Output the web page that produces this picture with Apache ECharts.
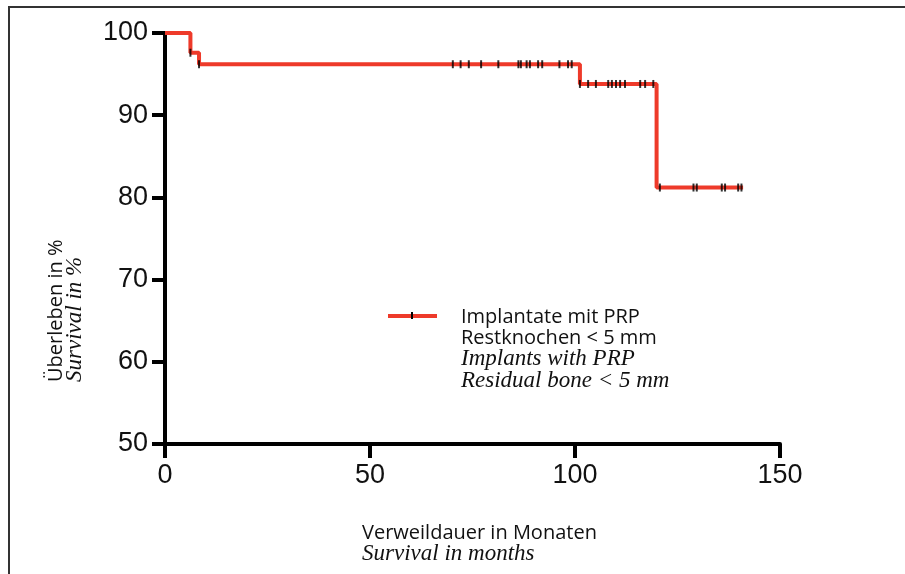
<!DOCTYPE html>
<html>
<head>
<meta charset="utf-8">
<script src="https://cdn.jsdelivr.net/npm/echarts@6/dist/echarts.min.js"></script>
<style>
  html, body { margin: 0; padding: 0; background: #fff; }
  #chart { width: 905px; height: 574px; }
</style>
</head>
<body>
<div id="chart"></div>
<script>
// Kaplan-Meier Stufen (Monate, Überleben %)
const stepMonths = [0, 6.2, 8.3, 101.2, 119.9, 141];
const stepSurvival = [100, 97.6, 96.2, 93.8, 81.2, 81.2];

// zensierte Fälle je Stufe
const censor976 = [6.2];
const censor962 = [8.3, 70.2, 72.1, 74.1, 77.1, 81.3, 86.2, 86.8, 88.2, 89.0, 91.0, 92.0, 96.2, 98.3, 99.2];
const censor938 = [101.2, 103.2, 105.1, 108.1, 109, 110, 111, 112.2, 115.9, 117.1, 119.1];
const censor812 = [120.7, 128.9, 129.7, 135.8, 136.6, 139.8, 140.6];

const xTicks = [0, 50, 100, 150];
const yTicks = [50, 60, 70, 80, 90, 100];

const red = "#ee3a2a";
const sans = "'Open Sans', 'DejaVu Sans', sans-serif";
const serif = "'Liberation Serif', serif";

let curve = stepMonths.map((m, i) => [m, stepSurvival[i]]);
let censored = []
  .concat(censor976.map((m) => [m, 97.6]))
  .concat(censor962.map((m) => [m, 96.2]))
  .concat(censor938.map((m) => [m, 93.8]))
  .concat(censor812.map((m) => [m, 81.2]));

// Textzeile als graphic-Element
function txt(x, y, text, font, rot) {
  return {
    type: "text",
    x: x,
    y: y,
    rotation: rot || 0,
    style: { text: text, font: font, fill: "#111", align: "left", verticalAlign: "middle" },
  };
}

let myChart = echarts.init(document.getElementById("chart"));
let option = {
  animation: false,
  grid: { left: 165, right: 125, top: 33, bottom: 130 },
  xAxis: {
    type: "value",
    min: xTicks[0],
    max: xTicks[xTicks.length - 1],
    interval: 50,
    splitLine: { show: false },
    axisLine: { lineStyle: { color: "#000", width: 4, cap: "round" } },
    axisTick: { length: 14, lineStyle: { color: "#000", width: 4 } },
    axisLabel: { color: "#111", fontSize: 27, fontFamily: "'Liberation Sans', Arial", margin: 18 },
  },
  yAxis: {
    type: "value",
    min: yTicks[0],
    max: yTicks[yTicks.length - 1],
    interval: 10,
    splitLine: { show: false },
    axisLine: { lineStyle: { color: "#000", width: 4 } },
    axisTick: { length: 13, lineStyle: { color: "#000", width: 4 } },
    axisLabel: { color: "#111", fontSize: 27, fontFamily: "'Liberation Sans', Arial", margin: 17 },
  },
  series: [
    {
      type: "line",
      step: "end",
      data: curve,
      symbol: "none",
      lineStyle: { color: red, width: 4 },
      z: 3,
    },
    {
      type: "scatter",
      data: censored,
      symbol: "rect",
      symbolSize: [2, 8],
      itemStyle: { color: "#000" },
      z: 4,
    },
  ],
  graphic: [
    // Rahmen
    { type: "rect", shape: { x: 9, y: 7, width: 920, height: 600 }, style: { fill: "none", stroke: "#333", lineWidth: 2 } },
    // Legende
    { type: "line", shape: { x1: 388, y1: 316, x2: 437, y2: 316 }, style: { stroke: red, lineWidth: 4 } },
    { type: "rect", shape: { x: 411, y: 312, width: 2, height: 7 }, style: { fill: "#000" } },
    txt(461, 317, "Implantate mit PRP", "20px " + sans),
    txt(461, 338, "Restknochen < 5 mm", "20px " + sans),
    txt(461, 359, "Implants with PRP", "italic 23px " + serif),
    txt(461, 381, "Residual bone < 5 mm", "italic 23px " + serif),
    // x-Achsentitel
    txt(362, 533, "Verweildauer in Monaten", "20px " + sans),
    txt(362, 554, "Survival in months", "italic 23px " + serif),
    // y-Achsentitel
    txt(56, 382, "Überleben in %", "20px " + sans, Math.PI / 2),
    txt(75, 382, "Survival in %", "italic 23px " + serif, Math.PI / 2),
  ],
};
myChart.setOption(option);
</script>
</body>
</html>
